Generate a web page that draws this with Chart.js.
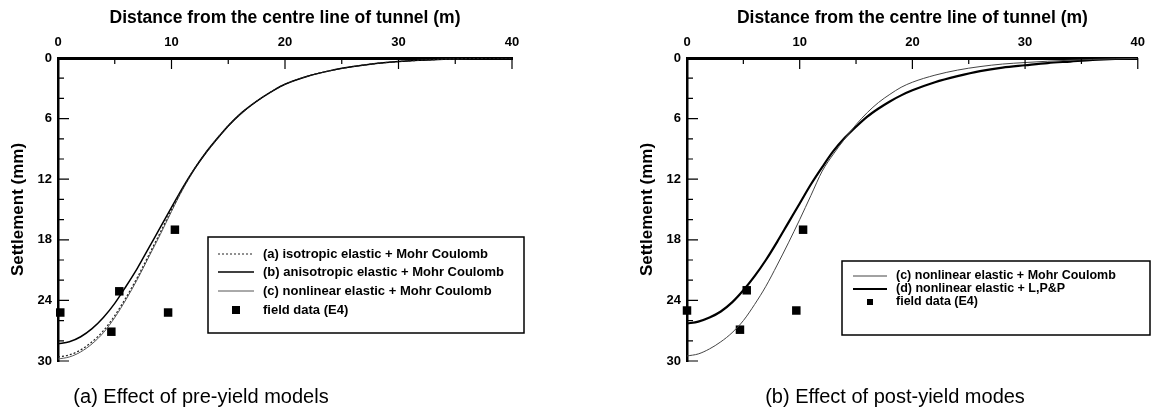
<!DOCTYPE html>
<html>
<head>
<meta charset="utf-8">
<script src="https://cdn.jsdelivr.net/npm/chart.js@4.4.1/dist/chart.umd.min.js"></script>
<style>
  body { margin: 0; background: #fff; }
  #wrap { position: relative; width: 1153px; height: 418px; overflow: hidden; }
  canvas { position: absolute; top: 0; }
  .cap { position: absolute; top: 385px; width: 320px; text-align: center;
         font: 20px "Liberation Sans Narrow", "Liberation Sans", sans-serif; color: #000; }
</style>
</head>
<body>
<div id="wrap">
  <canvas id="left" width="576" height="418" style="left:0"></canvas>
  <canvas id="right" width="577" height="418" style="left:576px"></canvas>
  <div class="cap" style="left:41px">(a) Effect of pre-yield models</div>
  <div class="cap" style="left:735px">(b) Effect of post-yield modes</div>
</div>
<script>
// distance from tunnel centre line (m)
var distance = [0, 1, 2, 3, 4, 5, 6, 7, 8, 9, 10, 11, 12, 13, 14, 15, 16, 17, 18, 19, 20,
                22, 24, 26, 28, 30, 32, 34, 36, 38, 40];

// (a) pre-yield models, settlement (mm)
var isoMC    = [29.6, 29.4, 28.9, 28.1, 27.0, 25.5, 23.7, 21.7, 19.5, 17.3, 15.0, 12.9, 11.0, 9.4, 8.0, 6.7, 5.6, 4.7, 3.9, 3.2, 2.6,
                1.8, 1.25, 0.85, 0.55, 0.35, 0.22, 0.12, 0.06, 0.02, 0];
var anisoMC  = [28.3, 28.1, 27.6, 26.8, 25.7, 24.3, 22.6, 20.8, 18.8, 16.8, 14.8, 12.8, 11.0, 9.4, 8.0, 6.7, 5.6, 4.7, 3.9, 3.2, 2.6,
                1.8, 1.25, 0.85, 0.55, 0.35, 0.22, 0.12, 0.06, 0.02, 0];
var nonlinMC = [29.8, 29.6, 29.1, 28.3, 27.2, 25.7, 23.9, 21.9, 19.7, 17.5, 15.2, 13.0, 11.1, 9.5, 8.1, 6.8, 5.7, 4.7, 3.9, 3.2, 2.6,
                1.8, 1.25, 0.85, 0.55, 0.35, 0.22, 0.12, 0.06, 0.02, 0];

// (b) post-yield models, settlement (mm)
var nonlinMC2  = [29.5, 29.3, 28.8, 28.1, 27.2, 26.0, 24.4, 22.6, 20.5, 18.3, 16.0, 13.6, 11.2, 9.5, 8.0, 6.6, 5.4, 4.4, 3.6, 2.9, 2.4,
                  1.7, 1.2, 0.85, 0.6, 0.45, 0.32, 0.22, 0.14, 0.08, 0.04];
var nonlinLPP  = [26.3, 26.1, 25.7, 25.1, 24.2, 23.0, 21.6, 20.0, 18.2, 16.3, 14.4, 12.5, 10.8, 9.2, 7.9, 6.8, 5.8, 5.0, 4.3, 3.7, 3.2,
                  2.4, 1.8, 1.3, 0.95, 0.72, 0.5, 0.35, 0.2, 0.1, 0.05];

// field data (E4)
var fieldXa = [0.2, 4.7, 5.4, 9.7, 10.3];
var fieldYa = [25.2, 27.1, 23.1, 25.2, 17.0];
var fieldXb = [0, 4.7, 5.3, 9.7, 10.3];
var fieldYb = [25.0, 26.9, 23.0, 25.0, 17.0];

var xTicks = [0, 10, 20, 30, 40];
var yTicks = [0, 6, 12, 18, 24, 30];

function pts(xs, ys) {
    return xs.map(function (x, i) { return {x: x, y: ys[i]}; });
}

function curve(label, ys, color, width, dash) {
    return {
        label: label, data: pts(distance, ys),
        borderColor: color, borderWidth: width, borderDash: dash || [],
        pointRadius: 0, cubicInterpolationMode: 'monotone', fill: false
    };
}

function field(xs, ys, r) {
    return {
        label: 'field data (E4)', data: pts(xs, ys), showLine: false,
        pointStyle: 'rect', pointRadius: 6, pointHoverRadius: 6, legendSize: r,
        backgroundColor: '#000', borderWidth: 0, clip: false
    };
}

// tick marks pointing into the plot, with minor ticks
var innerTicks = {
    id: 'innerTicks',
    afterDatasetsDraw: function (chart) {
        var ctx = chart.ctx, a = chart.chartArea, x = chart.scales.x, y = chart.scales.y;
        ctx.save();
        ctx.strokeStyle = '#000';
        ctx.lineWidth = 1.2;
        ctx.beginPath();
        for (var v = 0; v <= 40; v += 5) {
            var px = x.getPixelForValue(v);
            ctx.moveTo(px, a.top);
            ctx.lineTo(px, a.top + (v % 10 === 0 ? 11 : 6));
        }
        for (var w = 0; w <= 30; w += 2) {
            var py = y.getPixelForValue(w);
            ctx.moveTo(a.left, py);
            ctx.lineTo(a.left + (w % 6 === 0 ? 11 : 6), py);
        }
        ctx.stroke();
        ctx.restore();
    }
};

// boxed legend inside the plot
var boxLegend = {
    id: 'boxLegend',
    afterDraw: function (chart, args, o) {
        var ctx = chart.ctx, b = o.box;
        ctx.save();
        ctx.strokeStyle = '#000';
        ctx.lineWidth = 1.5;
        ctx.strokeRect(b[0], b[1], b[2] - b[0], b[3] - b[1]);
        ctx.font = 'bold ' + o.size + 'px "Liberation Sans", Arial, sans-serif';
        ctx.textBaseline = 'middle';
        ctx.fillStyle = '#000';
        chart.data.datasets.forEach(function (ds, i) {
            var yy = o.rows[i];
            if (ds.showLine === false) {
                var s = ds.legendSize, cx = (o.line[0] + o.line[1]) / 2;
                ctx.fillRect(cx - s / 2, yy - s / 2, s, s);
            } else {
                ctx.save();
                ctx.strokeStyle = ds.borderColor;
                ctx.lineWidth = ds.borderWidth;
                ctx.setLineDash(ds.borderDash);
                ctx.beginPath();
                ctx.moveTo(o.line[0], yy);
                ctx.lineTo(o.line[1], yy);
                ctx.stroke();
                ctx.restore();
            }
            ctx.fillText(ds.label, o.textX, yy);
        });
        ctx.restore();
    }
};

var family = '"Liberation Sans", Arial, sans-serif';
var tickFont = {family: family, size: 13, weight: 'bold'};

function makeOptions(padLeft, padRight, legend) {
    return {
        responsive: false,
        animation: false,
        devicePixelRatio: 1,
        layout: {padding: {left: padLeft, right: padRight, top: 0, bottom: 57}},
        plugins: {legend: {display: false}, tooltip: {enabled: false}, boxLegend: legend},
        scales: {
            x: {
                type: 'linear', position: 'top', min: 0, max: 40,
                afterFit: function (s) { s.height = 58; },
                afterBuildTicks: function (s) { s.ticks = xTicks.map(function (v) { return {value: v}; }); },
                grid: {display: false, drawTicks: false},
                border: {display: true, color: '#000', width: 3},
                ticks: {font: tickFont, color: '#000', padding: 8, maxRotation: 0},
                title: {display: true, text: 'Distance from the centre line of tunnel (m)', color: '#000',
                        font: {family: family, size: 17.5, weight: 'bold'},
                        padding: {top: 8, bottom: 0}}
            },
            y: {
                type: 'linear', reverse: true, min: 0, max: 30,
                afterFit: function (s) { s.width = 58; },
                afterBuildTicks: function (s) { s.ticks = yTicks.map(function (v) { return {value: v}; }); },
                grid: {display: false, drawTicks: false},
                border: {display: true, color: '#000', width: 2.5},
                ticks: {font: tickFont, color: '#000', padding: 6},
                title: {display: true, text: 'Settlement (mm)', color: '#000',
                        font: {family: family, size: 17, weight: 'bold'},
                        padding: {top: 8, bottom: 0}}
            }
        }
    };
}

new Chart(document.getElementById('left'), {
    type: 'line',
    data: {datasets: [
        curve('(a) isotropic elastic + Mohr Coulomb', isoMC, '#222', 1.2, [2, 2]),
        curve('(b) anisotropic elastic + Mohr Coulomb', anisoMC, '#000', 1.5),
        curve('(c) nonlinear elastic + Mohr Coulomb', nonlinMC, '#555', 1),
        field(fieldXa, fieldYa, 8)
    ]},
    options: makeOptions(0, 64, {box: [208, 237, 524, 333], rows: [254, 272, 291, 310], line: [218, 254],
                                 textX: 263, size: 13}),
    plugins: [innerTicks, boxLegend]
});

new Chart(document.getElementById('right'), {
    type: 'line',
    data: {datasets: [
        curve('(c) nonlinear elastic + Mohr Coulomb', nonlinMC2, '#444', 1),
        curve('(d) nonlinear elastic + L,P&P', nonlinLPP, '#000', 2.2),
        field(fieldXb, fieldYb, 6)
    ]},
    options: makeOptions(53, 11, {box: [266, 261, 574, 335], rows: [276, 289, 302], line: [277, 311],
                                  textX: 320, size: 12.5}),
    plugins: [innerTicks, boxLegend]
});
</script>
</body>
</html>
